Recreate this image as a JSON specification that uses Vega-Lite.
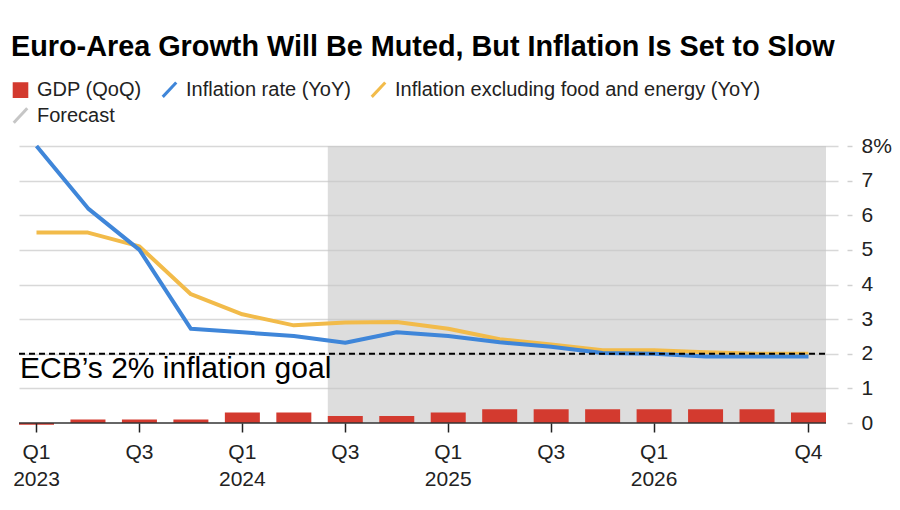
{
  "$schema": "https://vega.github.io/schema/vega-lite/v6.json",
  "width": 819,
  "height": 277,
  "autosize": {"type": "none"},
  "padding": {"left": 19, "top": 146, "right": 62, "bottom": 87},
  "background": "white",
  "title": {
    "text": "Euro-Area Growth Will Be Muted, But Inflation Is Set to Slow",
    "anchor": "start",
    "frame": "group",
    "font": "Liberation Sans",
    "fontSize": 28.8,
    "fontWeight": "bold",
    "color": "#000000",
    "dx": -8,
    "baseline": "alphabetic",
    "offset": -6
  },
  "config": {
    "view": {"stroke": null},
    "font": "Liberation Sans"
  },
  "datasets": {
    "quarters": [
      {"q": "2023 Q1", "gdp": -0.05, "infl": 8.0, "core": 5.5},
      {"q": "2023 Q2", "gdp": 0.1, "infl": 6.2, "core": 5.5},
      {"q": "2023 Q3", "gdp": 0.1, "infl": 5.0, "core": 5.1},
      {"q": "2023 Q4", "gdp": 0.1, "infl": 2.72, "core": 3.72},
      {"q": "2024 Q1", "gdp": 0.3, "infl": 2.62, "core": 3.14},
      {"q": "2024 Q2", "gdp": 0.3, "infl": 2.51, "core": 2.82},
      {"q": "2024 Q3", "gdp": 0.2, "infl": 2.32, "core": 2.9},
      {"q": "2024 Q4", "gdp": 0.2, "infl": 2.62, "core": 2.92},
      {"q": "2025 Q1", "gdp": 0.3, "infl": 2.51, "core": 2.72},
      {"q": "2025 Q2", "gdp": 0.4, "infl": 2.33, "core": 2.42},
      {"q": "2025 Q3", "gdp": 0.4, "infl": 2.2, "core": 2.27},
      {"q": "2025 Q4", "gdp": 0.4, "infl": 2.02, "core": 2.1},
      {"q": "2026 Q1", "gdp": 0.4, "infl": 2.0, "core": 2.1},
      {"q": "2026 Q2", "gdp": 0.4, "infl": 1.92, "core": 2.04},
      {"q": "2026 Q3", "gdp": 0.4, "infl": 1.92, "core": 2.0},
      {"q": "2026 Q4", "gdp": 0.3, "infl": 1.92, "core": 2.0}
    ],
    "forecast": [
      {"start": "2024 Q3", "end": "2026 Q4", "series": "Forecast"}
    ],
    "goal": [
      {"start": "2023 Q1", "end": "2026 Q4", "target": 2, "label": "ECB’s 2% inflation goal"}
    ],
    "baseline": [
      {"start": "2023 Q1", "end": "2026 Q4", "level": 0}
    ]
  },
  "layer": [
    {
      "data": {"name": "forecast"},
      "mark": {"type": "rect", "opacity": 0.6},
      "encoding": {
        "x": {
          "field": "start", "type": "nominal", "bandPosition": 0, "title": null,
          "scale": {
            "type": "band",
            "domain": ["2023 Q1","2023 Q2","2023 Q3","2023 Q4","2024 Q1","2024 Q2","2024 Q3","2024 Q4","2025 Q1","2025 Q2","2025 Q3","2025 Q4","2026 Q1","2026 Q2","2026 Q3","2026 Q4"],
            "paddingInner": 0.32,
            "paddingOuter": 0.1166,
            "align": 0
          },
          "axis": {
            "values": ["2023 Q1","2023 Q3","2024 Q1","2024 Q3","2025 Q1","2025 Q3","2026 Q1","2026 Q4"],
            "bandPosition": 0.5,
            "labelExpr": "split(datum.value, ' ')[1] == 'Q1' ? [split(datum.value, ' ')[1], split(datum.value, ' ')[0]] : split(datum.value, ' ')[1]",
            "labelAngle": 0,
            "labelFont": "Liberation Sans",
            "labelFontSize": 21,
            "labelColor": "#222222",
            "labelLineHeight": 27,
            "labelPadding": 9,
            "labelBaseline": "top",
            "labelOverlap": false,
            "domain": false,
            "ticks": true,
            "tickSize": 9,
            "tickWidth": 1.5,
            "tickColor": "#222222",
            "grid": false
          }
        },
        "x2": {"field": "end", "bandPosition": 1},
        "y": {
          "datum": 8, "type": "quantitative", "title": null,
          "scale": {"domain": [0, 8], "nice": false, "zero": true},
          "axis": {
            "orient": "right",
            "values": [0,1,2,3,4,5,6,7,8],
            "tickCount": 12,
            "labelExpr": "datum.value == 8 ? '8%' : '' + datum.value",
            "labelFont": "Liberation Sans",
            "labelFontSize": 21,
            "labelColor": "#222222",
            "labelPadding": 9,
            "labelAlign": "left",
            "labelOverlap": false,
            "domain": false,
            "offset": 9,
            "tickSize": 5,
            "tickWidth": 1.5,
            "tickColor": "#d0d0d0",
            "grid": true,
            "gridColor": {"condition": {"test": "datum.value === 0", "value": null}, "value": "#d8d8d8"},
            "gridWidth": 1.5
          }
        },
        "y2": {"datum": 0},
        "color": {"field": "series", "type": "nominal", "title": null}
      }
    },
    {
      "data": {"name": "quarters"},
      "mark": {"type": "bar"},
      "encoding": {
        "x": {"field": "q", "type": "nominal", "title": null},
        "y": {"field": "gdp", "type": "quantitative", "title": null},
        "color": {
          "datum": "GDP (QoQ)",
          "type": "nominal",
          "title": null,
          "scale": {
            "domain": ["GDP (QoQ)", "Inflation rate (YoY)", "Inflation excluding food and energy (YoY)", "Forecast"],
            "range": ["#d33a2f", "#3f86d9", "#f2bb4a", "#c6c6c6"]
          },
          "legend": {
            "orient": "none",
            "legendX": -9,
            "legendY": -67,
            "direction": "horizontal",
            "columns": 3,
            "title": null,
            "padding": 0,
            "symbolSize": 324,
            "labelFont": "Liberation Sans",
            "labelFontSize": 20,
            "labelColor": "#222222",
            "labelOffset": 6,
            "columnPadding": 14,
            "rowPadding": -1,
            "labelLimit": 600,
            "encode": {
              "symbols": {
                "update": {
                  "shape": {"signal": "datum.value === 'GDP (QoQ)' ? 'M-0.7,-0.7H0.7V0.7H-0.7Z' : 'M-0.75,0.8L0.75,-0.8'"},
                  "fill": {"signal": "datum.value === 'GDP (QoQ)' ? '#d33a2f' : 'transparent'"},
                  "stroke": {"signal": "datum.value === 'GDP (QoQ)' ? 'transparent' : (datum.value === 'Forecast' ? '#d8d8d8' : scale('color', datum.value))"},
                  "strokeWidth": {"value": 3},
                  "opacity": {"value": 1},
                  "fillOpacity": {"value": 1},
                  "strokeOpacity": {"value": 1}
                }
              }
            }
          }
        }
      }
    },
    {
      "data": {"name": "quarters"},
      "mark": {"type": "line", "strokeWidth": 4, "strokeJoin": "round"},
      "encoding": {
        "x": {"field": "q", "type": "nominal", "bandPosition": 0.5, "title": null},
        "y": {"field": "core", "type": "quantitative", "title": null},
        "color": {"datum": "Inflation excluding food and energy (YoY)", "type": "nominal"}
      }
    },
    {
      "data": {"name": "quarters"},
      "mark": {"type": "line", "strokeWidth": 4, "strokeJoin": "round"},
      "encoding": {
        "x": {"field": "q", "type": "nominal", "bandPosition": 0.5, "title": null},
        "y": {"field": "infl", "type": "quantitative", "title": null},
        "color": {"datum": "Inflation rate (YoY)", "type": "nominal"}
      }
    },
    {
      "data": {"name": "baseline"},
      "mark": {"type": "rule", "color": "#333333", "strokeWidth": 1.5},
      "encoding": {
        "x": {"field": "start", "type": "nominal", "bandPosition": 0, "title": null},
        "x2": {"field": "end", "bandPosition": 1},
        "y": {"field": "level", "type": "quantitative", "title": null}
      }
    },
    {
      "data": {"name": "goal"},
      "mark": {"type": "rule", "color": "#000000", "strokeWidth": 2, "strokeDash": [6, 4]},
      "encoding": {
        "x": {"field": "start", "type": "nominal", "bandPosition": 0, "title": null},
        "x2": {"field": "end", "bandPosition": 1},
        "y": {"field": "target", "type": "quantitative", "title": null}
      }
    },
    {
      "data": {"name": "goal"},
      "mark": {"type": "text", "align": "left", "baseline": "alphabetic", "dx": 1, "dy": 24, "fontSize": 30, "font": "Liberation Sans", "color": "#000000"},
      "encoding": {
        "x": {"field": "start", "type": "nominal", "bandPosition": 0, "title": null},
        "y": {"field": "target", "type": "quantitative", "title": null},
        "text": {"field": "label"}
      }
    }
  ]
}
